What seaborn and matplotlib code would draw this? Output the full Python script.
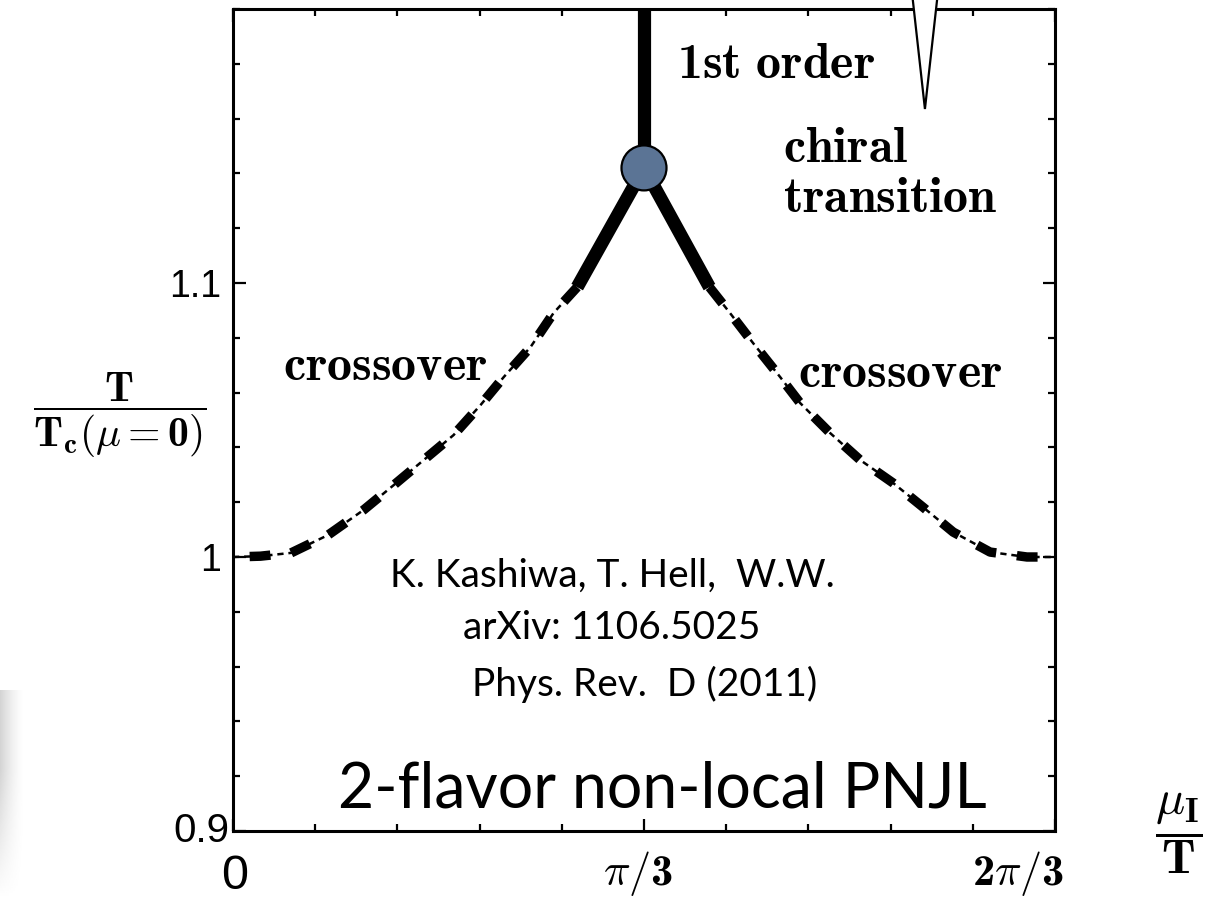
import numpy as np
import pandas as pd
import seaborn as sns
import matplotlib
matplotlib.use("Agg")
import matplotlib.pyplot as plt
from matplotlib.patches import Polygon, Circle
from matplotlib.transforms import ScaledTranslation

# Crossover line (T / Tc(mu=0) versus imaginary chemical potential mu_I / T)
mu_cross_left = [0.0, 0.07, 0.148, 0.242, 0.333, 0.410, 0.486, 0.562, 0.631, 0.690, 0.758, 0.817, 0.877]
T_cross_left = [1.000, 1.0003, 1.0015, 1.0080, 1.0172, 1.0263, 1.0354, 1.0445, 1.0555, 1.0657, 1.0766, 1.0891, 1.0985]
mu_cross_right = [1.214, 1.266, 1.325, 1.394, 1.445, 1.521, 1.598, 1.682, 1.758, 1.835, 1.929, 2.023, 2.0944]
T_cross_right = [1.0985, 1.0891, 1.0781, 1.0657, 1.0562, 1.0453, 1.0354, 1.0270, 1.0182, 1.0091, 1.0018, 1.0000, 1.0000]

# First-order chiral transition near the Roberge-Weiss point
mu_first = [0.877, np.pi / 3, 1.214]
T_first = [1.0985, 1.142, 1.0985]
mu_rw = [np.pi / 3, np.pi / 3]
T_rw = [1.142, 1.2]
endpoint = (np.pi / 3, 1.142)

x_ticks = [0.0, np.pi / 3, 2 * np.pi / 3]
x_ticklabels = ["0", r"$\pi/\mathbf{3}$", r"$\mathbf{2}\pi/\mathbf{3}$"]
y_ticks = [1.0, 1.1]
y_ticklabels = ["1", "1.1"]

sns.set_theme(style="ticks")
# Computer Modern text with real bold digits; Greek falls back to the cm set
plt.rcParams["mathtext.fontset"] = "custom"
plt.rcParams["mathtext.rm"] = "cmr10"
plt.rcParams["mathtext.it"] = "cmmi10"
plt.rcParams["mathtext.bf"] = "cmb10"
plt.rcParams["mathtext.fallback"] = "cm"
plt.rcParams["font.family"] = ["Liberation Sans", "DejaVu Sans"]
plt.rcParams["lines.scale_dashes"] = False

fig = plt.figure(figsize=(12.2, 9), dpi=100)

# soft grey shade along the lower left border
gx = np.linspace(0.0, 1.0, 40)
gy = np.clip(np.linspace(0.0, 1.6, 80), 0, 1)
shade = 1.0 - 0.17 * np.outer(gy, (1 - gx) ** 1.5)
sax = fig.add_axes([0, 0, 24 / 1220, 210 / 900])
sax.imshow(shade, cmap="gray", vmin=0, vmax=1, aspect="auto", origin="lower",
           interpolation="bilinear")
sax.set_axis_off()

ax = fig.add_axes([233 / 1220, 1 - 831 / 900, 822 / 1220, 822 / 900])
ax.set_xlim(0, 2 * np.pi / 3)
ax.set_ylim(0.9, 1.2)

df_left = pd.DataFrame({"mu": mu_cross_left, "T": T_cross_left})
df_right = pd.DataFrame({"mu": mu_cross_right, "T": T_cross_right})

for df, offset in [(df_left, 18), (df_right, 0)]:
    # thin dash-dot base line
    sns.lineplot(data=df, x="mu", y="T", ax=ax, color="black", lw=1.8, sort=False, estimator=None)
    ax.lines[-1].set_linestyle((0, (4.5, 3.5)))
    # heavy dashes on top
    sns.lineplot(data=df, x="mu", y="T", ax=ax, color="black", lw=6.8, sort=False, estimator=None)
    ln = ax.lines[-1]
    ln.set_linestyle((offset, (15, 15)))
    ln.set_dash_capstyle("butt")

sns.lineplot(x=mu_first, y=T_first, ax=ax, color="black", lw=9.5, sort=False, estimator=None)
ax.lines[-1].set_solid_capstyle("butt")
sns.lineplot(x=mu_rw, y=T_rw, ax=ax, color="black", lw=9.5, sort=False, estimator=None)
ax.lines[-1].set_solid_capstyle("butt")

# endpoint marker (circle with fixed pixel radius)
r_px = 22.5
pt = ax.transData.transform(endpoint)
circ = Circle((pt[0], pt[1]), r_px, transform=None, facecolor="#5b7495",
              edgecolor="black", lw=1.6, zorder=5)
ax.add_artist(circ)

# white pointer coming down from the top
arrow = Polygon([(1.723, 1.215), (1.803, 1.215), (1.763, 1.1635)], closed=True,
                facecolor="white", edgecolor="black", lw=1.6, clip_on=False, zorder=6)
ax.add_patch(arrow)

# axes, ticks
for s in ax.spines.values():
    s.set_linewidth(2.2)
    s.set_color("black")
    s.set_visible(True)

ax.set_xticks(x_ticks)
ax.set_xticks(np.arange(0, 2 * np.pi / 3 + 1e-9, np.pi / 15), minor=True)
ax.set_yticks([0.9] + y_ticks)
ax.set_yticks(np.arange(0.9, 1.2001, 0.02), minor=True)
ax.set_yticklabels([""] + y_ticklabels)
ax.set_xticklabels(x_ticklabels)

ax.tick_params(which="both", direction="in", top=True, right=True, color="black", width=1.6)
ax.tick_params(which="major", length=9)
ax.tick_params(which="minor", length=5)
ax.tick_params(axis="y", which="major", pad=8.5, labelsize=27, labelcolor="black")
ax.tick_params(axis="x", which="major", pad=13, labelsize=32, labelcolor="black")

xl = ax.get_xticklabels()
xl[0].set_fontsize(35)
xl[0].set_fontfamily(["Liberation Sans", "DejaVu Sans"])
xl[0].set_transform(xl[0].get_transform() + ScaledTranslation(0.02, -0.05, fig.dpi_scale_trans))
xl[1].set_transform(xl[1].get_transform() + ScaledTranslation(-0.06, 0, fig.dpi_scale_trans))
xl[2].set_transform(xl[2].get_transform() + ScaledTranslation(-0.37, 0, fig.dpi_scale_trans))

ax.text(-0.004, 0.9, "0.9", ha="right", va="center", fontsize=29, color="black",
        transform=ax.get_yaxis_transform(), clip_on=False)

ax.set_xlabel(r"$\dfrac{\mu_{\mathbf{I}}}{\mathbf{T}}$", fontsize=35, color="black")
ax.xaxis.set_label_coords(1.151, -0.003)
ax.xaxis.label.set_va("center")
ax.set_ylabel(r"$\dfrac{\mathbf{T}}{\mathbf{T}_{\mathbf{c}}(\mu=\mathbf{0})}$", fontsize=30,
              rotation=0, color="black")
ax.yaxis.set_label_coords(-0.138, 0.505)
ax.yaxis.label.set_va("center")
ax.yaxis.label.set_ha("center")

# annotations
bold = dict(fontsize=36, color="black", ha="left", va="baseline")
ax.text(677, 900 - 78, r"$\mathbf{1st\ order}$", transform=None, **bold)
ax.text(783, 900 - 162, r"$\mathbf{chiral}$", transform=None, **bold)
ax.text(783, 900 - 212, r"$\mathbf{transition}$", transform=None, **bold)
ax.text(283, 900 - 380, r"$\mathbf{crossover}$", transform=None, **bold)
ax.text(798, 900 - 387, r"$\mathbf{crossover}$", transform=None, **bold)

ref = dict(fontsize=28, color="black", ha="center", va="center", family="Lato")
ax.text(612, 900 - 576, "K. Kashiwa, T. Hell,  W.W.", transform=None, **ref)
ax.text(612, 900 - 628, "arXiv: 1106.5025", transform=None, **ref)
ax.text(645, 900 - 684, "Phys. Rev.  D (2011)", transform=None, **ref)
ax.text(662, 900 - 790, "2-flavor non-local PNJL", transform=None, fontsize=45,
        color="black", ha="center", va="center", family="Lato")

fig.savefig("out.png", dpi=100, facecolor="white")
